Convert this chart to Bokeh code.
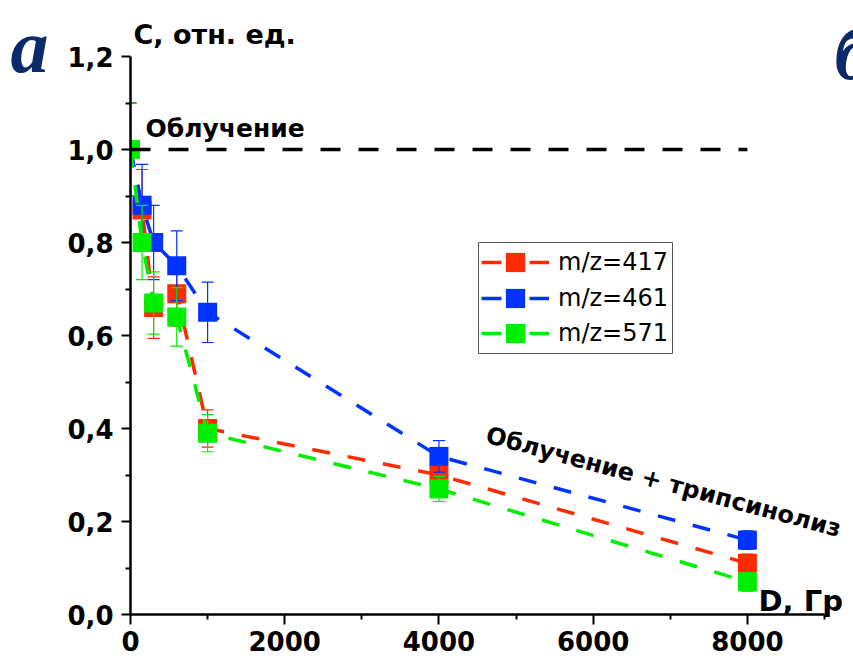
import numpy as np
from bokeh.plotting import figure
from bokeh.models import (Range1d, FixedTicker, Label, Legend, LegendItem, LinearAxis,
                          CustomJSTickFormatter, BoxAnnotation)
from bokeh.embed import file_html
from bokeh.resources import INLINE

# ---------------- data ----------------
dose = [0, 150, 300, 600, 1000, 4000, 8000]
c_417 = [1.00, 0.87, 0.66, 0.69, 0.40, 0.30, 0.11]
c_461 = [1.00, 0.88, 0.80, 0.75, 0.65, 0.34, 0.16]
c_571 = [1.00, 0.80, 0.67, 0.64, 0.39, 0.27, 0.07]
err_417 = [0.10, 0.087, 0.066, 0.07, 0.04, 0.03, 0.02]
err_461 = [0.10, 0.088, 0.08, 0.075, 0.065, 0.034, 0.02]
err_571 = [0.10, 0.08, 0.067, 0.063, 0.04, 0.027, 0.02]
series_labels = ["m/z=417", "m/z=461", "m/z=571"]
series_colors = ["#ff2a00", "#0033ff", "#00ee00"]

ref_dose = [0, 8000]
ref_level = [1.0, 1.0]

y_ticks = [0.0, 0.2, 0.4, 0.6, 0.8, 1.0, 1.2]
y_tick_labels = ["0,0", "0,2", "0,4", "0,6", "0,8", "1,0", "1,2"]
y_minor = [0.1, 0.3, 0.5, 0.7, 0.9, 1.1]
x_ticks = [0, 2000, 4000, 6000, 8000]
x_tick_labels = ["0", "2000", "4000", "6000", "8000"]
x_minor = [1000, 3000, 5000, 7000, 9000]

y_title = "C, отн. ед."
x_title = "D, Гр"
note_top = "Облучение"
note_bottom = "Облучение + трипсинолиз"
panel_a = "а"
panel_b = "б"

# ---------------- layout ----------------
W, H = 853, 668
FL, FR, FT, FB = 130, 824, 56, 614      # pixel box of the axes
XMIN, XMAX = 0, 9000
YMIN, YMAX = 0.0, 1.2


def dx(px):
    return XMIN + (px - FL) / (FR - FL) * (XMAX - XMIN)


def dy(py):
    return YMIN + (FB - py) / (FB - FT) * (YMAX - YMIN)


p = figure(width=W, height=H,
           x_range=Range1d(dx(0), dx(W)), y_range=Range1d(dy(H), dy(0)),
           output_backend="svg", toolbar_location=None,
           x_axis_location=None, y_axis_location=None,
           min_border=0, min_border_left=0, min_border_right=0,
           min_border_top=0, min_border_bottom=0)
p.outline_line_color = None
p.xgrid.visible = False
p.ygrid.visible = False
p.background_fill_color = "white"
p.border_fill_color = "white"


def fmt(tick_values, tick_texts):
    return CustomJSTickFormatter(args=dict(tv=tick_values, tl=tick_texts), code="""
        for (let i = 0; i < tv.length; i++) {
            if (Math.abs(tv[i] - tick) < 1e-6) { return tl[i]; }
        }
        return '';
    """)


yaxis = LinearAxis(fixed_location=XMIN, bounds=(YMIN, YMAX),
                   ticker=FixedTicker(ticks=y_ticks, minor_ticks=y_minor),
                   formatter=fmt(y_ticks, y_tick_labels))
xaxis = LinearAxis(fixed_location=YMIN, bounds=(XMIN, XMAX),
                   ticker=FixedTicker(ticks=x_ticks, minor_ticks=x_minor),
                   formatter=fmt(x_ticks, x_tick_labels))
for ax in (xaxis, yaxis):
    ax.axis_line_width = 2.5
    ax.axis_line_color = "black"
    ax.major_tick_line_width = 2
    ax.minor_tick_line_width = 2
    ax.major_tick_in = 0
    ax.minor_tick_in = 0
    ax.minor_tick_out = 5
    ax.major_label_text_font = "DejaVu Sans"
    ax.major_label_text_font_style = "bold"
    ax.major_label_text_font_size = "26px"
    ax.major_label_text_color = "black"
yaxis.major_tick_out = 9
yaxis.major_label_standoff = 8
xaxis.major_tick_out = 10
xaxis.major_label_standoff = 6

# ---------------- series ----------------
values = [c_417, c_461, c_571]
errors = [err_417, err_461, err_571]
legend_items = []
for vals, errs, col, lab in zip(values, errors, series_colors, series_labels):
    v = np.array(vals)
    e = np.array(errs)
    upper = v + e
    lower = v - e
    p.line(dose, vals, line_color=col, line_width=3.5, line_dash="18 18")
    p.segment(x0=dose, y0=lower, x1=dose, y1=upper, line_color=col, line_width=1.2)
    p.scatter(dose, upper, marker="dash", size=12, line_color=col, line_width=1.2)
    p.scatter(dose, lower, marker="dash", size=12, line_color=col, line_width=1.2)
    p.scatter(dose, vals, marker="square", size=19, fill_color=col, line_color=col, line_width=0)
    # legend-only renderers (no visible point)
    lr = p.line(x=[np.nan], y=[np.nan], line_color=col, line_width=3.5, line_dash="20 28")
    sr = p.scatter(x=[np.nan], y=[np.nan], marker="square", size=19, fill_color=col,
                   line_color=col, line_width=0)
    legend_items.append(LegendItem(label=lab, renderers=[lr, sr]))

# marks left of D = 0 are clipped by the axis, as in the original
mask = BoxAnnotation(right=XMIN, fill_color="white", fill_alpha=1.0, line_alpha=0.0, level="glyph")
p.renderers.append(mask)

p.line(ref_dose, ref_level, line_color="black", line_width=3.5, line_dash="20 18")

p.add_layout(yaxis, "left")
p.add_layout(xaxis, "below")

# legend frame
LB_L, LB_T, LB_R, LB_B = 478, 242, 672, 353
legend_box = BoxAnnotation(left=dx(LB_L), right=dx(LB_R), top=dy(LB_T), bottom=dy(LB_B),
                           fill_color="white", fill_alpha=1.0,
                           line_color="#555555", line_width=1, line_alpha=1.0)
p.add_layout(legend_box)

GH = 48          # legend glyph height -> 0.4*48 ~ 19 px legend square
ROW0, ROW_STEP = 262, 35.5
for i, item in enumerate(legend_items):
    center = ROW0 + i * ROW_STEP
    leg = Legend(items=[item], location=(481, H - (center + GH / 2)),
                 glyph_width=68, glyph_height=GH, label_standoff=9, label_height=30,
                 label_text_font="DejaVu Sans", label_text_font_size="24px",
                 label_text_color="black",
                 padding=0, spacing=0, margin=0,
                 border_line_alpha=0.0, background_fill_alpha=0.0)
    p.add_layout(leg)

# ---------------- texts ----------------
def add_label(px, py, text, size, font="DejaVu Sans", style="bold", color="black", angle=0.0):
    p.add_layout(Label(x=dx(px), y=dy(py), text=text, text_font=font, text_font_style=style,
                       text_font_size=size, text_color=color, text_align="left",
                       text_baseline="alphabetic", angle=angle))


add_label(133, 34, y_title, "27px")
add_label(145, 128, note_top, "25px")
add_label(486, 434, note_bottom, "24px", angle=-np.deg2rad(15.0))
add_label(758, 600, x_title, "29px")
add_label(10, 45, panel_a, "76px", font="Liberation Serif", style="bold italic", color="#0b2a6b")
add_label(834, 52, panel_b, "76px", font="Liberation Serif", style="bold italic", color="#0b2a6b")

open("out.html", "w").write(file_html(p, INLINE))
